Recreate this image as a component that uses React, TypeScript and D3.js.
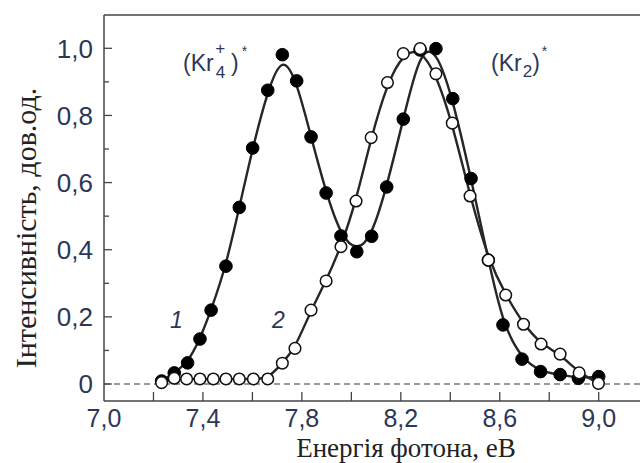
import React from "react";
import * as d3 from "d3";

// Series 1 (filled circles): photon energy (eV) and intensity (arb. units)
const energy1 = [7.233, 7.284, 7.338, 7.388, 7.433, 7.493, 7.547, 7.601, 7.662, 7.721, 7.779, 7.837, 7.898, 7.958, 8.022, 8.082, 8.143, 8.210, 8.278, 8.342, 8.410, 8.484, 8.554, 8.613, 8.690, 8.765, 8.844, 8.918, 9.000];
const intensity1 = [0.009, 0.033, 0.063, 0.134, 0.220, 0.351, 0.526, 0.703, 0.875, 0.981, 0.903, 0.736, 0.569, 0.441, 0.394, 0.440, 0.587, 0.789, 0.995, 0.999, 0.850, 0.612, 0.369, 0.176, 0.074, 0.037, 0.028, 0.017, 0.022];

// Series 2 (open circles)
const energy2 = [7.233, 7.284, 7.334, 7.388, 7.442, 7.493, 7.547, 7.604, 7.662, 7.721, 7.772, 7.837, 7.898, 7.958, 8.019, 8.080, 8.146, 8.210, 8.278, 8.342, 8.408, 8.480, 8.554, 8.624, 8.696, 8.767, 8.844, 8.921, 8.999];
const intensity2 = [0.004, 0.017, 0.015, 0.015, 0.015, 0.015, 0.015, 0.015, 0.015, 0.062, 0.106, 0.220, 0.307, 0.409, 0.545, 0.734, 0.898, 0.984, 0.999, 0.924, 0.777, 0.560, 0.369, 0.265, 0.178, 0.119, 0.089, 0.033, 0.002];

const xTickValues = [7.2, 7.4, 7.6, 7.8, 8.0, 8.2, 8.4, 8.6, 8.8, 9.0];
const xTickLabels = ["7,0", "7,4", "7,8", "8,2", "8,6", "9,0"];
const xLabelValues = [7.0, 7.4, 7.8, 8.2, 8.6, 9.0];
const yMajorValues = [0, 0.2, 0.4, 0.6, 0.8, 1.0];
const yTickLabels = ["0", "0,2", "0,4", "0,6", "0,8", "1,0"];
const yMinorValues = [0.1, 0.3, 0.5, 0.7, 0.9];

const xTitle = "Енергія фотона, еВ";
const yTitle = "Інтенсивність, дов.од.";

export default function App() {
  const W = 640;
  const H = 463;
  const x = d3.scaleLinear().domain([7.0, 9.0]).range([104, 598.7]);
  const y = d3.scaleLinear().domain([0, 1]).range([384, 48.3]);
  const left = 104;
  const right = 640;
  const top = 15;
  const bottom = 401;
  const ink = "#262626";
  const textCol = "#2c3757";

  const s1 = energy1.map((e, i) => [e, intensity1[i]] as [number, number]);
  const s2 = energy2.map((e, i) => [e, intensity2[i]] as [number, number]);
  const line = d3
    .line<[number, number]>()
    .x((d) => x(d[0]))
    .y((d) => y(d[1]))
    .curve(d3.curveBasis);

  const sans = "'Liberation Sans', Arial, sans-serif";
  const serif = "'Liberation Serif', 'Times New Roman', serif";

  return (
    <svg width={W} height={H} style={{ position: "absolute", left: 0, top: 0, background: "#fff" }}>
      {/* frame */}
      <line x1={left} x2={right} y1={top} y2={top} stroke="#444" strokeWidth={1.5} />
      <line x1={left} x2={left} y1={top} y2={bottom} stroke="#444" strokeWidth={1.5} />
      <line x1={left} x2={right} y1={bottom} y2={bottom} stroke="#444" strokeWidth={1.5} />

      {/* zero dashed line */}
      <line x1={left} x2={right} y1={y(0)} y2={y(0)} stroke="#333" strokeWidth={1} strokeDasharray="6,4" />

      {/* x ticks */}
      {xTickValues.map((v) => (
        <line key={"xt" + v} x1={x(v)} x2={x(v)} y1={bottom} y2={bottom - 9} stroke="#444" strokeWidth={1.3} />
      ))}
      {xLabelValues.map((v, i) => (
        <text key={"xl" + v} x={x(v)} y={427} textAnchor="middle" fontFamily={sans} fontSize={25} fill={textCol}>
          {xTickLabels[i]}
        </text>
      ))}

      {/* y ticks */}
      {yMajorValues.map((v) => (
        <line key={"yt" + v} x1={left} x2={left + 8} y1={y(v)} y2={y(v)} stroke="#444" strokeWidth={1.3} />
      ))}
      {yMinorValues.map((v) => (
        <line key={"ym" + v} x1={left} x2={left + 5} y1={y(v)} y2={y(v)} stroke="#444" strokeWidth={1.3} />
      ))}
      {yMajorValues.map((v, i) => (
        <text key={"yl" + v} x={93} y={y(v)} dy="0.36em" textAnchor="end" fontFamily={sans} fontSize={26} fill={textCol}>
          {yTickLabels[i]}
        </text>
      ))}

      {/* axis titles */}
      <text x={406} y={457} textAnchor="middle" fontFamily={serif} fontSize={27} fill="#222">
        {xTitle}
      </text>
      <text transform={`translate(36,228) rotate(-90)`} textAnchor="middle" fontFamily={serif} fontSize={30} fill="#222">
        {yTitle}
      </text>

      {/* curves */}
      <path d={line(s1) || ""} fill="none" stroke={ink} strokeWidth={2.4} />
      <path d={line(s2) || ""} fill="none" stroke={ink} strokeWidth={2.4} />

      {/* markers */}
      {s1.map((d, i) => (
        <circle key={"f" + i} cx={x(d[0])} cy={y(d[1])} r={6.3} fill="#000" stroke="#000" strokeWidth={1} />
      ))}
      {s2.map((d, i) => (
        <circle key={"o" + i} cx={x(d[0])} cy={y(d[1])} r={5.8} fill="#fff" stroke="#111" strokeWidth={1.5} />
      ))}

      {/* annotations */}
      <text x={183} y={71} fontFamily={sans} fontSize={23} fill={textCol}>
        (Kr
        <tspan fontSize={17} dx={2} dy={7}>4</tspan>
        <tspan fontSize={17} dx={-10} dy={-24}>+</tspan>
        <tspan fontSize={23} dx={6} dy={17}>)</tspan>
        <tspan fontSize={14} dx={3} dy={-15}>*</tspan>
      </text>
      <text x={491} y={71} fontFamily={sans} fontSize={23} fill={textCol}>
        (Kr
        <tspan fontSize={17} dx={1} dy={6}>2</tspan>
        <tspan fontSize={23} dy={-6}>)</tspan>
        <tspan fontSize={14} dx={2} dy={-15}>*</tspan>
      </text>
      <text x={170} y={328} fontFamily={sans} fontStyle="italic" fontSize={23} fill={textCol}>
        1
      </text>
      <text x={272} y={328} fontFamily={sans} fontStyle="italic" fontSize={23} fill={textCol}>
        2
      </text>
    </svg>
  );
}
